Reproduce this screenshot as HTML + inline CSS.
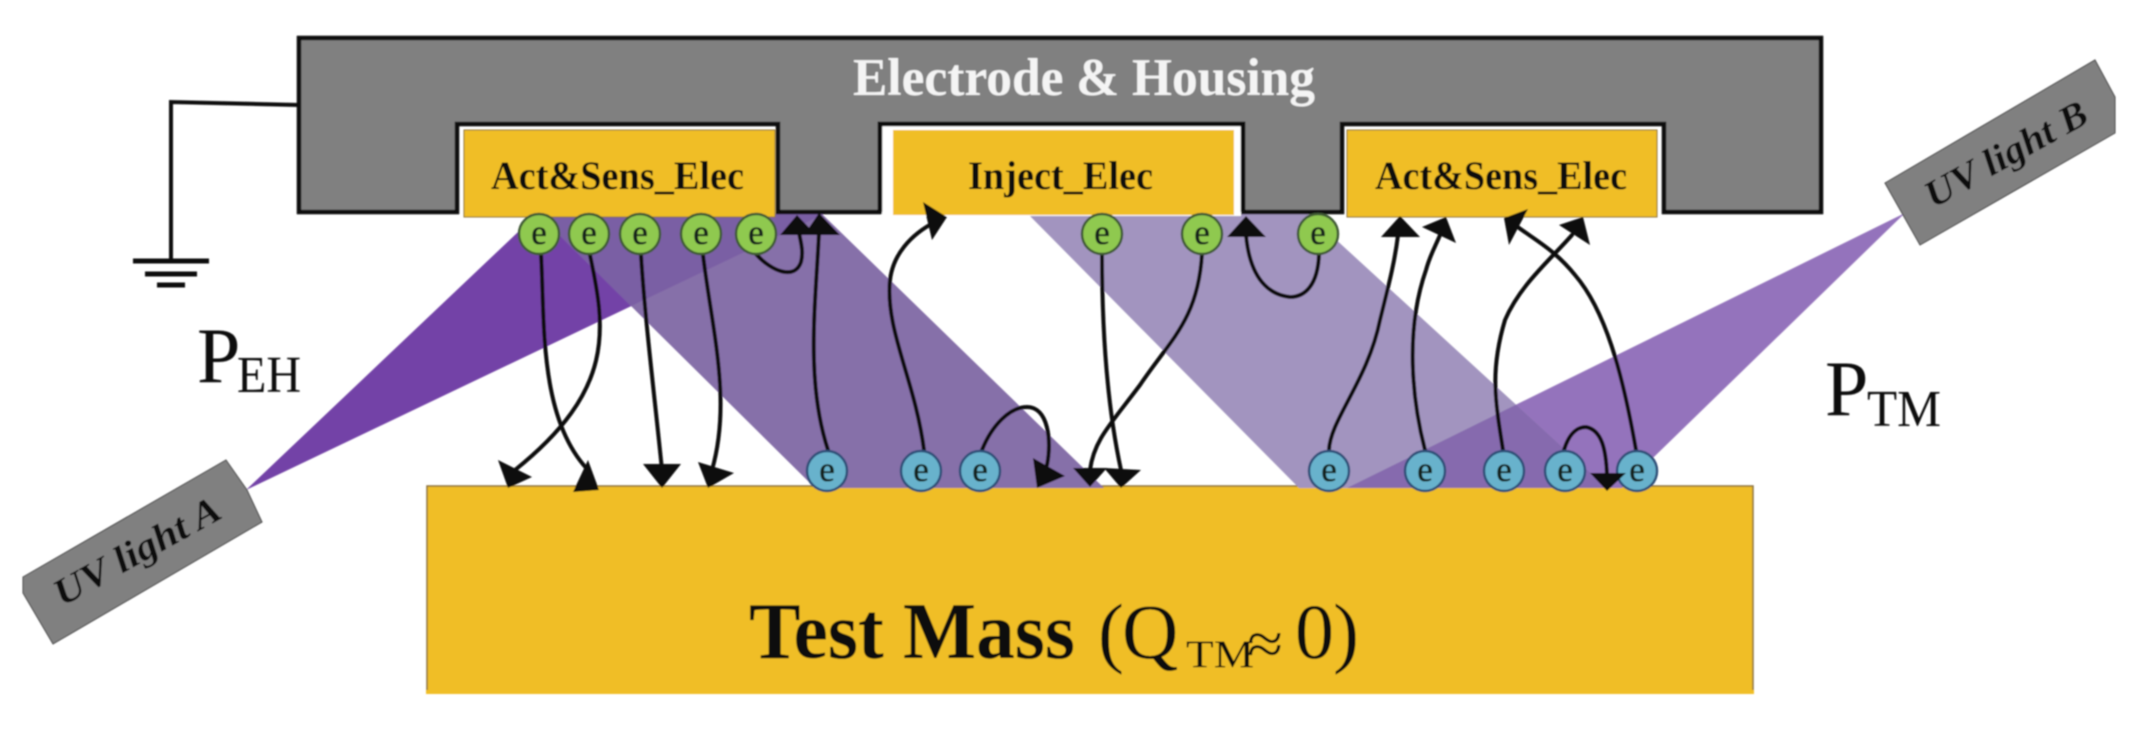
<!DOCTYPE html>
<html><head><meta charset="utf-8"><style>
html,body{margin:0;padding:0;background:#fff}
svg{display:block}
text{font-family:"Liberation Serif",serif}
.c{fill:none;stroke:#0a0a0a;stroke-width:4;stroke-linecap:round}
.h{fill:#0a0a0a}
.e{font-size:35px;text-anchor:middle;fill:#14241f;stroke:#14241f;stroke-width:.6}
.l{font-size:40px;font-weight:bold;fill:#111}
</style></head><body>
<svg xmlns="http://www.w3.org/2000/svg" width="2147" height="729" viewBox="0 0 2147 729">
<defs>
<filter id="b" x="-2%" y="-2%" width="104%" height="104%"><feGaussianBlur stdDeviation="0.9"/></filter>
<clipPath id="ca"><polygon points="246,490 537,214 824,214"/></clipPath>
<clipPath id="cb"><polygon points="1905,213 1347,488 1622,488"/></clipPath>
</defs>
<rect width="2147" height="729" fill="#fff"/>
<g filter="url(#b)">
<!-- test mass -->
<rect x="427" y="486" width="1326" height="207" fill="#f0be28" stroke="#8a6f3c" stroke-width="1.5"/>
<rect x="426" y="690" width="1328" height="4" fill="#f0be28"/>
<!-- beams -->
<polygon points="246,490 537,214 824,214" fill="#7343a7"/>
<polygon points="538,214 822,214 1104,488 815,488" fill="#8670a9"/>
<polygon points="538,214 822,214 1104,488 815,488" fill="#7a5fa4" clip-path="url(#ca)"/>
<polygon points="1905,213 1347,488 1622,488" fill="#9473bc"/>
<polygon points="1028,214 1308,214 1607,488 1299,488" fill="#a294bf"/>
<polygon points="1028,214 1308,214 1607,488 1299,488" fill="#866bae" clip-path="url(#cb)"/>
<!-- housing -->
<path d="M299 38H1821V212H1664V124H1342V212H1243V124H880V212H778V124H457V212H299Z" fill="#808080" stroke="#0c0c0c" stroke-width="4.5" stroke-linejoin="miter"/>
<rect x="882" y="126" width="359" height="90" fill="#fff"/>
<path d="M880 212V124H1243V212" fill="none" stroke="#0c0c0c" stroke-width="4.5"/>
<!-- electrodes -->
<rect x="464" y="130" width="311" height="87" fill="#f0be28" stroke="#8a6f3c" stroke-width="1"/>
<rect x="893" y="130" width="341" height="85" fill="#f0be28"/>
<rect x="1347" y="130" width="310" height="87" fill="#f0be28" stroke="#8a6f3c" stroke-width="1"/>
<!-- ground -->
<path d="M299 105L171 102V260" fill="none" stroke="#0c0c0c" stroke-width="4"/>
<path d="M133 261H209M145 274H197M157 285H185" fill="none" stroke="#0c0c0c" stroke-width="5"/>
<!-- UV lights -->
<polygon points="23,577 226,460 247,490 262,522 53,644 23,593" fill="#808080" stroke="#444" stroke-width="1"/>
<polygon points="1885,183 2095,60 2115,97 2115,133 1920,245" fill="#808080" stroke="#444" stroke-width="1"/>
<text transform="translate(143,562) rotate(-29)" text-anchor="middle" font-size="38" font-weight="bold" font-style="italic" fill="#111" textLength="185" lengthAdjust="spacingAndGlyphs">UV light A</text>
<text transform="translate(2012,165) rotate(-29)" text-anchor="middle" font-size="38" font-weight="bold" font-style="italic" fill="#111" textLength="180" lengthAdjust="spacingAndGlyphs">UV light B</text>
<!-- labels -->
<text x="853" y="95" font-size="53" font-weight="bold" fill="#f4f4f4" textLength="462" lengthAdjust="spacingAndGlyphs">Electrode &amp; Housing</text>
<text class="l" x="491" y="189" textLength="253" lengthAdjust="spacingAndGlyphs">Act&amp;Sens_Elec</text>
<text class="l" x="968" y="189" textLength="185" lengthAdjust="spacingAndGlyphs">Inject_Elec</text>
<text class="l" x="1375" y="189" textLength="252" lengthAdjust="spacingAndGlyphs">Act&amp;Sens_Elec</text>
<text x="197" y="382" font-size="78" fill="#111">P</text>
<text x="237" y="392" font-size="52" fill="#111" textLength="64" lengthAdjust="spacingAndGlyphs">EH</text>
<text x="1825" y="415" font-size="78" fill="#111">P</text>
<text x="1867" y="426" font-size="52" fill="#111" textLength="74" lengthAdjust="spacingAndGlyphs">TM</text>
<text x="749" y="658" font-size="80" font-weight="bold" fill="#0a0a0a" textLength="326" lengthAdjust="spacingAndGlyphs">Test Mass</text>
<text x="1098" y="658" font-size="78" fill="#0a0a0a">(</text>
<text x="1122" y="658" font-size="78" fill="#0a0a0a">Q</text>
<text x="1186" y="667" font-size="39" fill="#0a0a0a" textLength="68" lengthAdjust="spacingAndGlyphs">TM</text>
<text x="1247" y="664" font-size="60" fill="#0a0a0a" textLength="36" lengthAdjust="spacingAndGlyphs">≈</text>
<text x="1295" y="658" font-size="78" fill="#0a0a0a">0</text>
<text x="1333" y="658" font-size="78" fill="#0a0a0a">)</text>
<!-- connectors -->
<path class="c" d="M541 254C545 320 538 420 590 472"/>
<path class="c" d="M590 255C606 330 615 390 515 470"/>
<path class="c" d="M641 255C645 320 655 400 662 470"/>
<path class="c" d="M703 255C712 330 732 400 712 470"/>
<path class="c" d="M756 254C772 272 795 280 801 262C804 250 800 240 799 232"/>
<path class="c" d="M828 450C805 380 816 300 819 232"/>
<path class="c" d="M924 450C915 380 885 330 890 280C893 255 910 235 935 222"/>
<path class="c" d="M982 450C992 425 1010 407 1027 407C1048 407 1052 440 1047 465"/>
<path class="c" d="M1102 254C1102 340 1108 410 1121 470"/>
<path class="c" d="M1202 254C1198 320 1170 340 1140 385C1110 425 1094 440 1090 470"/>
<path class="c" d="M1319 254C1318 285 1305 297 1290 297C1270 295 1250 280 1246 235"/>
<path class="c" d="M1329 450C1330 420 1368 380 1380 320C1390 280 1395 260 1398 235"/>
<path class="c" d="M1425 450C1412 400 1405 330 1426 270C1430 255 1436 245 1440 235"/>
<path class="c" d="M1503 450C1495 400 1490 370 1505 320C1520 285 1550 260 1572 235"/>
<path class="c" d="M1636 450C1622 370 1605 310 1575 275C1555 250 1535 240 1515 225"/>
<path class="c" d="M1564 450C1570 430 1580 427 1586 427C1602 430 1606 450 1607 475"/>
<!-- arrowheads -->
<polygon class="h" points="588,460 599,490 573,492"/>
<polygon class="h" points="498,460 532,477 508,488"/>
<polygon class="h" points="643,464 681,464 662,488"/>
<polygon class="h" points="698,462 734,473 708,488"/>
<polygon class="h" points="780,235 797,215 816,235"/>
<polygon class="h" points="804,235 819,213 840,235"/>
<polygon class="h" points="923,202 947,217 932,240"/>
<polygon class="h" points="1033,458 1037,488 1065,476"/>
<polygon class="h" points="1104,468 1141,470 1121,488"/>
<polygon class="h" points="1073,468 1107,468 1090,487"/>
<polygon class="h" points="1227,237 1266,237 1246,216"/>
<polygon class="h" points="1381,237 1420,237 1400,216"/>
<polygon class="h" points="1422,227 1446,217 1456,243"/>
<polygon class="h" points="1559,225 1583,217 1590,245"/>
<polygon class="h" points="1528,209 1504,218 1509,245"/>
<!-- electrons -->
<g fill="#8fc94f" stroke="#3f5a36" stroke-width="2.5">
<circle cx="539" cy="234" r="20"/><circle cx="589" cy="234" r="20"/><circle cx="640" cy="234" r="20"/><circle cx="701" cy="234" r="20"/><circle cx="756" cy="234" r="20"/><circle cx="1102" cy="234" r="20"/><circle cx="1202" cy="234" r="20"/><circle cx="1318" cy="234" r="20"/>
</g>
<g fill="#68b2cc" stroke="#2f4f78" stroke-width="2.5">
<circle cx="827" cy="471" r="20"/><circle cx="921" cy="471" r="20"/><circle cx="980" cy="471" r="20"/><circle cx="1329" cy="471" r="20"/><circle cx="1425" cy="471" r="20"/><circle cx="1504" cy="471" r="20"/><circle cx="1565" cy="471" r="20"/><circle cx="1637" cy="471" r="20"/>
</g>
<polygon class="h" points="1590,473 1626,473 1607,491"/>
<g class="e">
<text x="539" y="244">e</text><text x="589" y="244">e</text><text x="640" y="244">e</text><text x="701" y="244">e</text><text x="756" y="244">e</text><text x="1102" y="244">e</text><text x="1202" y="244">e</text><text x="1318" y="244">e</text>
<text x="827" y="481">e</text><text x="921" y="481">e</text><text x="980" y="481">e</text><text x="1329" y="481">e</text><text x="1425" y="481">e</text><text x="1504" y="481">e</text><text x="1565" y="481">e</text><text x="1637" y="481">e</text>
</g>
</g>
</svg>
</body></html>
